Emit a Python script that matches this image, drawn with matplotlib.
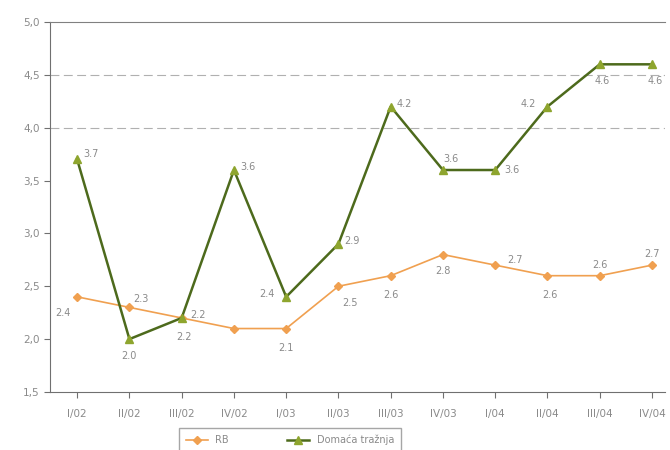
import matplotlib
matplotlib.use('Agg')
import matplotlib.pyplot as plt

quarters = ['I/02', 'II/02', 'III/02', 'IV/02', 'I/03', 'II/03', 'III/03', 'IV/03',
            'I/04', 'II/04', 'III/04', 'IV/04']
rb = [2.4, 2.3, 2.2, 2.1, 2.1, 2.5, 2.6, 2.8, 2.7, 2.6, 2.6, 2.7]
domestic = [3.7, 2.0, 2.2, 3.6, 2.4, 2.9, 4.2, 3.6, 3.6, 4.2, 4.6, 4.6]
yticks = [1.5, 2.0, 2.5, 3.0, 3.5, 4.0, 4.5, 5.0]

# label offsets in points (None = no label)
rb_off = [(-10, -12), (8, 6), (2, -14), None, (0, -14), (8, -12), (0, -14), (0, -12),
          (14, 4), (2, -14), (0, 8), (0, 8)]
dom_off = [(10, 4), (0, -12), (12, 2), (10, 2), (-14, 2), (10, 2), (10, 2), (6, 8),
           (12, 0), (-14, 2), (2, -12), (2, -12)]

GREY = '#8a8a8a'
ORANGE = '#f0a050'
GREEN = '#4d6a1c'
GREEN_MK = '#8ea52e'

fig = plt.figure(figsize=(6.7, 4.5), dpi=100)
ax = fig.add_axes([0.0746, 0.129, 0.918, 0.822])

x = list(range(len(quarters)))
ax.plot(x, rb, color=ORANGE, lw=1.2, marker='D', ms=4, mfc=ORANGE, mec=ORANGE, label='RB', zorder=3)
ax.plot(x, domestic, color=GREEN, lw=1.8, marker='^', ms=6, mfc=GREEN_MK, mec=GREEN_MK,
        label='Domaća tražnja', zorder=4)

for xi, v, off in zip(x, rb, rb_off):
    if off is None:
        continue
    ax.annotate(f'{v:.1f}', (xi, v), xytext=off, textcoords='offset points',
                ha='center', va='center', fontsize=7, color=GREY)
for xi, v, off in zip(x, domestic, dom_off):
    ax.annotate(f'{v:.1f}', (xi, v), xytext=off, textcoords='offset points',
                ha='center', va='center', fontsize=7, color=GREY)

for g in (4.0, 4.5):
    ax.axhline(g, color='#b0b0b0', lw=0.8, ls=(0, (8, 4)), zorder=1)

ax.set_xlim(-0.52, 11.25)
ax.set_ylim(1.5, 5.0)
ax.set_yticks(yticks)
ax.set_yticklabels([f'{t:.1f}'.replace('.', ',') for t in yticks])
ax.set_xticks(x)
ax.set_xticklabels(quarters)
ax.tick_params(axis='both', colors='#707070', labelcolor=GREY, labelsize=7.5, length=4)
ax.tick_params(axis='x', pad=8)

ax.spines['right'].set_visible(False)
ax.spines['top'].set_color('#808080')
ax.spines['left'].set_color('#707070')
ax.spines['bottom'].set_color('#707070')

leg = fig.legend(loc='center', bbox_to_anchor=(0.433, 0.022), ncol=2, fontsize=7,
                 frameon=True, edgecolor='#909090', fancybox=False, columnspacing=6,
                 handlelength=2.2, borderpad=0.7)
for t in leg.get_texts():
    t.set_color(GREY)

fig.savefig('out.png', dpi=100)
